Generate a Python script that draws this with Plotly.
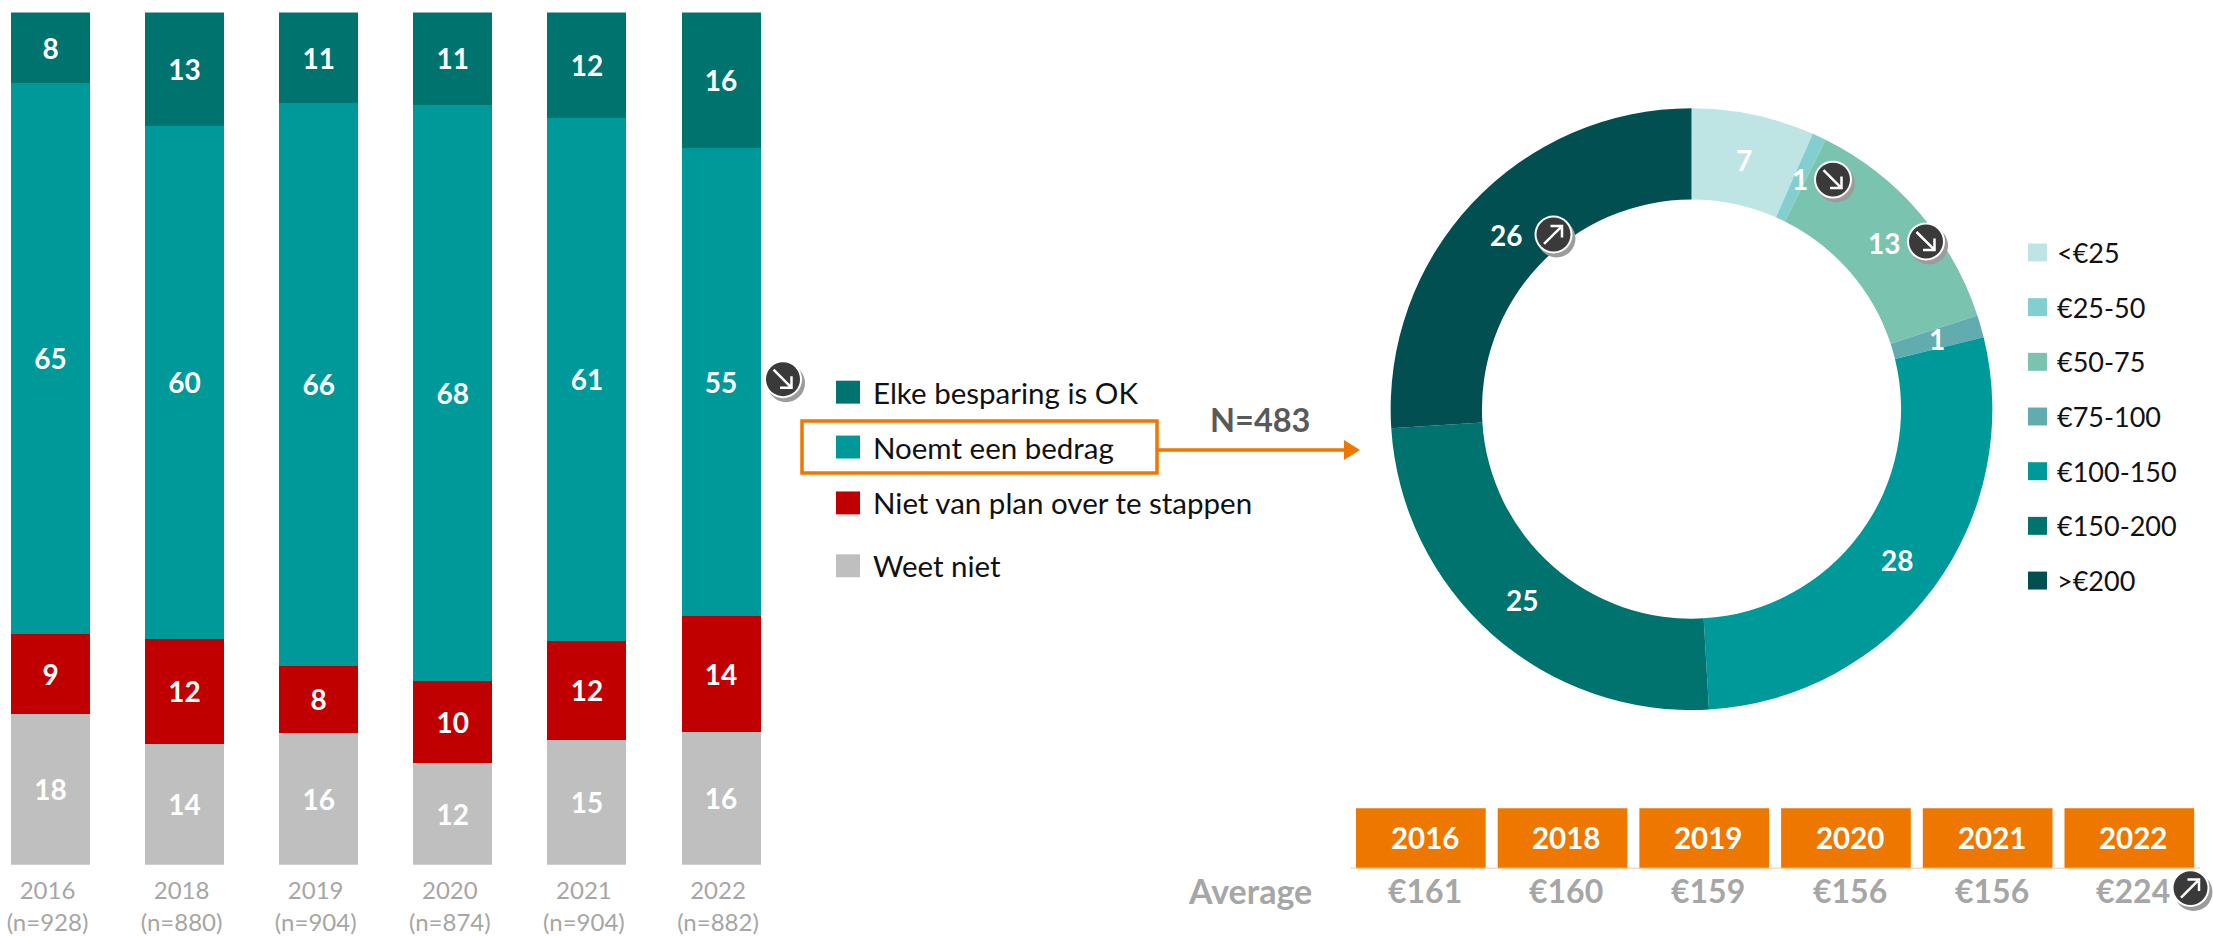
import math
import plotly.graph_objects as go

W, H = 2213, 936

# ---- data ----
bar_years = ["2016", "2018", "2019", "2020", "2021", "2022"]
bar_ns = ["928", "880", "904", "874", "904", "882"]
series_names = ["Weet niet", "Niet van plan over te stappen", "Noemt een bedrag", "Elke besparing is OK"]
# heights; the printed labels are these, rounded
weet_niet = [17.7, 14.2, 15.5, 11.9, 14.6, 15.6]
niet_van_plan = [9.4, 12.3, 7.8, 9.7, 11.7, 13.6]
noemt_bedrag = [64.6, 60.2, 66.1, 67.6, 61.3, 54.9]
elke_besparing = [8.3, 13.3, 10.6, 10.8, 12.4, 15.9]

donut_labels = ["<€25", "€25-50", "€50-75", "€75-100", "€100-150", "€150-200", ">€200"]
donut_shares = [6.6, 0.75, 12.6, 1.2, 27.9, 24.9, 26.0]
donut_text = ["7", "1", "13", "1", "28", "25", "26"]

avg_years = ["2016", "2018", "2019", "2020", "2021", "2022"]
avg_values = ["€161", "€160", "€159", "€156", "€156", "€224"]

# ---- style ----
FONT = "Lato"
DARK_TEAL, TEAL, RED, GREY = "#00736F", "#009999", "#C00000", "#BFBFBF"
DONUT_COLORS = ["#BEE5E3", "#83CFD0", "#7AC3AE", "#62ABAF", "#009999", "#00736F", "#014F50"]
ORANGE = "#EE7700"
MUTED = "#A6A6A6"


def px(x):
    return x / W


def py(y):
    return 1 - y / H


fig = go.Figure()

# ---- stacked bars ----
BAR_X0, BAR_STEP, BAR_W = 50.5, 134.1, 79
ticktext = [f"{y}<br>(n={n})" for y, n in zip(bar_years, bar_ns)]
for name, vals, col in zip(series_names,
                           [weet_niet, niet_van_plan, noemt_bedrag, elke_besparing],
                           [GREY, RED, TEAL, DARK_TEAL]):
    fig.add_trace(go.Bar(
        x=ticktext, y=vals, name=name, marker=dict(color=col, line=dict(width=0)),
        text=[f"{v:.0f}" for v in vals], textposition="inside", insidetextanchor="middle",
        textangle=0, constraintext="none",
        textfont=dict(family=FONT, size=28, color="white", weight="bold"),
        showlegend=False, hoverinfo="skip",
    ))

# ---- donut ----
CX, CY, R_OUT, R_IN = 1691.5, 410, 301.5, 210
fig.add_trace(go.Pie(
    labels=donut_labels, values=donut_shares, sort=False, direction="clockwise", rotation=0,
    hole=R_IN / R_OUT, textinfo="none", hoverinfo="skip", showlegend=False,
    marker=dict(colors=DONUT_COLORS, line=dict(width=0)),
    domain=dict(x=[px(CX - R_OUT), px(CX + R_OUT)], y=[py(CY + R_OUT), py(CY - R_OUT)]),
))

annotations = []
shapes = []


def label(x, y, text, size, color, bold=False, anchor="center"):
    annotations.append(dict(
        x=px(x), y=py(y), xref="paper", yref="paper", text=text, showarrow=False,
        xanchor=anchor, yanchor="middle",
        font=dict(family=FONT, size=size, color=color, weight="bold" if bold else "normal"),
    ))


def rect(x0, y0, x1, y1, fill=None, line=None, lw=0):
    shapes.append(dict(
        type="rect", xref="paper", yref="paper", x0=px(x0), x1=px(x1), y0=py(y0), y1=py(y1),
        fillcolor=fill or "rgba(0,0,0,0)",
        line=dict(color=line or "rgba(0,0,0,0)", width=lw),
    ))


def circle(cx, cy, r, fill):
    shapes.append(dict(
        type="circle", xref="paper", yref="paper", fillcolor=fill, line=dict(width=0),
        x0=px(cx - r), x1=px(cx + r), y0=py(cy + r), y1=py(cy - r),
    ))


def path(points_list, color, lw, fill=None):
    d = ""
    for pts in points_list:
        d += "M" + " L".join(f"{px(a):.6f},{py(b):.6f}" for a, b in pts) + " "
    if fill:
        d += "Z"
    shapes.append(dict(
        type="path", xref="paper", yref="paper", path=d,
        line=dict(color=color, width=lw), fillcolor=fill or "rgba(0,0,0,0)",
    ))


def badge(cx, cy, up):
    circle(cx + 3, cy + 4, 19, "#9C9C9C")
    circle(cx, cy, 19, "white")
    circle(cx, cy, 17, "#3A3A3A")
    s = -1 if up else 1
    path([
        [(cx - 9.5, cy - 9.5 * s), (cx + 8.5, cy + 8.5 * s)],
        [(cx - 3, cy + 8.5 * s), (cx + 8.5, cy + 8.5 * s), (cx + 8.5, cy - 3 * s)],
    ], "white", 2.5)


# donut value labels, centred on the ring
R_LABEL = 255
total = sum(donut_shares)
acc = 0
for share, t in zip(donut_shares, donut_text):
    ang = (acc + share / 2) / total * 2 * math.pi
    acc += share
    label(CX + R_LABEL * math.sin(ang), CY - R_LABEL * math.cos(ang), t, 28, "white", True)

# donut legend
for i, (lab, col) in enumerate(zip(donut_labels, DONUT_COLORS)):
    y = 253 + i * 54.8
    rect(2028, y - 9, 2047, y + 9, fill=col)
    label(2055, y, lab, 27, "#111111", anchor="left")

# bar legend
for name, col, y in zip(series_names[::-1], [DARK_TEAL, TEAL, RED, GREY], [393, 448, 504, 567]):
    rect(836, y - 11.5, 860, y + 11.5, fill=col)
    label(871, y, name, 29.5, "#111111", anchor="left")

# highlight box + arrow
rect(802, 422, 1157, 474, line=ORANGE, lw=3.5)
path([[(1157, 451), (1346, 451)]], ORANGE, 3.5)
path([[(1344, 441), (1360, 451), (1344, 461)]], ORANGE, 0, fill=ORANGE)
label(1260, 420, "N=483", 32.5, "#595959", True)

# averages table
for i, (yr, val) in enumerate(zip(avg_years, avg_values)):
    x0 = 1356 + i * 141.7
    rect(x0, 810, x0 + 129.7, 870, fill=ORANGE)
    label(x0 + 68.7, 839, yr, 29.5, "white", True)
    label(x0 + 68.7, 892, val, 32, MUTED, True)
label(1250, 892, "Average", 34, MUTED, True)
shapes.append(dict(type="line", xref="paper", yref="paper", x0=px(1350), x1=px(2200),
                   y0=py(870), y1=py(870), line=dict(color="#F7C699", width=1)))

# trend badges
badge(783, 380, False)
badge(1833, 180, False)
badge(1926, 242, False)
badge(1553.5, 235, True)
badge(2190.5, 890, True)

AX_L, AX_R = 0, 790
fig.update_layout(
    width=W, height=H, margin=dict(l=0, r=0, t=0, b=0), autosize=False,
    paper_bgcolor="white", plot_bgcolor="white",
    barmode="stack", barnorm="percent", bargap=1 - BAR_W / BAR_STEP,
    showlegend=False,
    xaxis=dict(
        domain=[px(AX_L), px(AX_R)],
        range=[(AX_L - BAR_X0) / BAR_STEP, (AX_R - BAR_X0) / BAR_STEP],
        type="category", showgrid=False, showline=False, zeroline=False,
        ticks="outside", ticklen=5, tickcolor="rgba(0,0,0,0)", ticklabelshift=-3,
        tickfont=dict(family=FONT, size=24, color=MUTED),
    ),
    yaxis=dict(
        domain=[py(866.5), py(12.5)], range=[0, 100], visible=False,
    ),
    annotations=annotations, shapes=shapes,
)

fig.write_html("out.html", config=dict(displayModeBar=False),
               post_script="document.body.style.margin='0';document.body.style.overflow='hidden';")
